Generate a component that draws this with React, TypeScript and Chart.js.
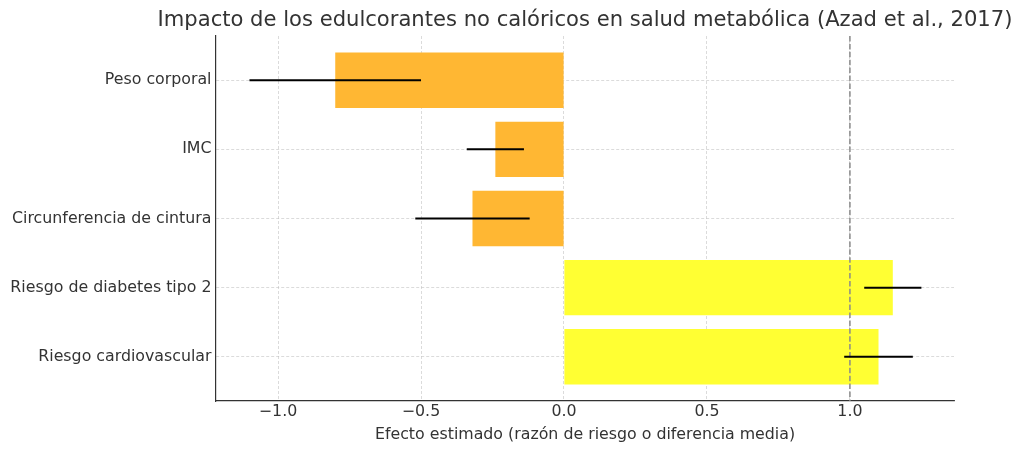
import React, { useEffect, useRef } from "react";
import { Chart, registerables } from "chart.js";

Chart.register(...registerables);

const categories = [
  "Peso corporal",
  "IMC",
  "Circunferencia de cintura",
  "Riesgo de diabetes tipo 2",
  "Riesgo cardiovascular",
];
const effects = [-0.8, -0.24, -0.32, 1.15, 1.1];
const errors = [0.3, 0.1, 0.2, 0.1, 0.12];
const referenceLine = 1.0;
const xTickStep = 0.5;

const TITLE = "Impacto de los edulcorantes no calóricos en salud metabólica (Azad et al., 2017)";
const X_TITLE = "Efecto estimado (razón de riesgo o diferencia media)";

const FONT = "'DejaVu Sans', sans-serif";
const TICK_SIZE = 15.8;

const overlayPlugin = {
  id: "overlay",
  afterDatasetsDraw(chart: any) {
    const { ctx, chartArea, scales } = chart;
    const xs = scales.x;
    const ys = scales.y;
    ctx.save();
    const rx = xs.getPixelForValue(referenceLine);
    ctx.strokeStyle = "#8a8a8a";
    ctx.lineWidth = 1.5;
    ctx.setLineDash([5.5, 2.4]);
    ctx.beginPath();
    ctx.moveTo(rx, chartArea.top);
    ctx.lineTo(rx, chartArea.bottom);
    ctx.stroke();
    ctx.setLineDash([]);
    ctx.strokeStyle = "#000";
    ctx.lineWidth = 2;
    effects.forEach((v, i) => {
      const y = ys.getPixelForValue(i);
      ctx.beginPath();
      ctx.moveTo(xs.getPixelForValue(v - errors[i]), y);
      ctx.lineTo(xs.getPixelForValue(v + errors[i]), y);
      ctx.stroke();
    });
    ctx.restore();
  },
  afterDraw(chart: any) {
    const { ctx, chartArea } = chart;
    ctx.save();
    ctx.font = `21.1px ${FONT}`;
    ctx.fillStyle = "#333";
    ctx.textAlign = "center";
    ctx.textBaseline = "middle";
    ctx.fillText(TITLE, (chartArea.left + chartArea.right) / 2, 20.5);
    ctx.restore();
  },
};

export default function App() {
  const ref = useRef<HTMLCanvasElement>(null);
  useEffect(() => {
    document.body.style.margin = "0";
    Chart.defaults.font.family = FONT;
    const chart = new Chart(ref.current!, {
      type: "bar",
      data: {
        datasets: [
          {
            data: effects.map((v, i) => ({ x: v, y: i })) as any,
            backgroundColor: effects.map((v) => (v < 0 ? "#FFB733" : "#FFFF33")),
            borderWidth: 0,
            barPercentage: 0.8,
            categoryPercentage: 1,
          },
        ],
      },
      options: {
        indexAxis: "y",
        animation: false,
        responsive: false,
        devicePixelRatio: 1,
        layout: { padding: { top: 36, right: 70, bottom: 0, left: 0 } },
        plugins: { legend: { display: false }, tooltip: { enabled: false }, title: { display: false } },
        scales: {
          x: {
            type: "linear",
            min: -1.217,
            max: 1.364,
            offset: false,
            ticks: {
              stepSize: xTickStep,
              includeBounds: false,
              padding: 1.5,
              color: "#333",
              font: { size: TICK_SIZE },
              callback: (v: any) => Number(v).toFixed(1).replace("-", "\u2212"),
            },
            grid: {
              color: "rgba(190,190,190,0.7)",
              lineWidth: 0.8,
              drawTicks: false,
              offset: false,
            },
            border: { color: "#333", width: 1.2, dash: [3, 2] },
            title: {
              display: true,
              text: X_TITLE,
              color: "#333",
              font: { size: TICK_SIZE },
              padding: { top: 0, bottom: 8.4 },
            },
            afterFit: (s: any) => {
              s.height = 52;
            },
          },
          y: {
            type: "linear",
            min: -0.64,
            max: 4.64,
            reverse: true,
            offset: false,
            afterBuildTicks: (s: any) => {
              s.ticks = categories.map((_, i) => ({ value: i }));
            },
            ticks: {
              padding: 4.5,
              color: "#333",
              font: { size: TICK_SIZE },
              callback: (v: any) => categories[v] ?? "",
            },
            grid: {
              color: "rgba(190,190,190,0.7)",
              lineWidth: 0.8,
              drawTicks: false,
              offset: false,
            },
            border: { color: "#333", width: 1.2, dash: [3, 2] },
            afterFit: (s: any) => {
              s.width = 216;
            },
          },
        },
      } as any,
      plugins: [overlayPlugin],
    });
    return () => chart.destroy();
  }, []);
  return (
    <div style={{ position: "absolute", left: 0, top: 0, width: 1024, height: 453, background: "#fff" }}>
      <canvas ref={ref} width={1024} height={453} style={{ width: 1024, height: 453 }} />
    </div>
  );
}
